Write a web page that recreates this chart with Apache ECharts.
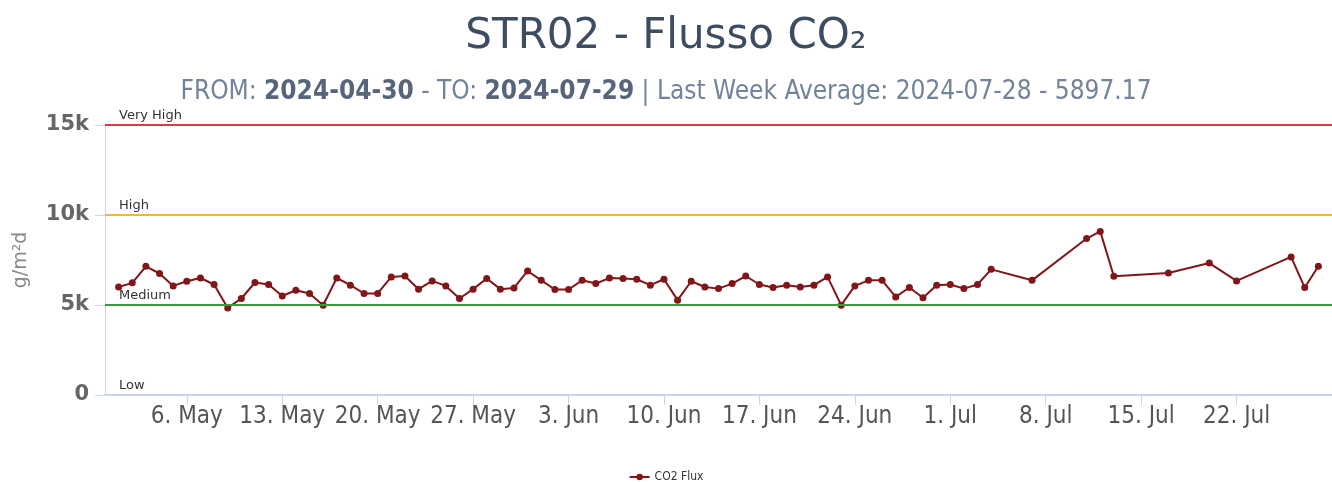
<!DOCTYPE html>
<html>
<head>
<meta charset="utf-8">
<script src="https://cdn.jsdelivr.net/npm/echarts@6/dist/echarts.min.js"></script>
<style>
  html, body { margin: 0; padding: 0; background: #fff; }
  #chart { width: 1332px; height: 482px; }
</style>
</head>
<body>
<div id="chart"></div>
<script>
// daily samples (then sparse in July)
const dates = [
  '2024-05-01', '2024-05-02', '2024-05-03', '2024-05-04', '2024-05-05', '2024-05-06', '2024-05-07',
  '2024-05-08', '2024-05-09', '2024-05-10', '2024-05-11', '2024-05-12', '2024-05-13', '2024-05-14',
  '2024-05-15', '2024-05-16', '2024-05-17', '2024-05-18', '2024-05-19', '2024-05-20', '2024-05-21',
  '2024-05-22', '2024-05-23', '2024-05-24', '2024-05-25', '2024-05-26', '2024-05-27', '2024-05-28',
  '2024-05-29', '2024-05-30', '2024-05-31', '2024-06-01', '2024-06-02', '2024-06-03', '2024-06-04',
  '2024-06-05', '2024-06-06', '2024-06-07', '2024-06-08', '2024-06-09', '2024-06-10', '2024-06-11',
  '2024-06-12', '2024-06-13', '2024-06-14', '2024-06-15', '2024-06-16', '2024-06-17', '2024-06-18',
  '2024-06-19', '2024-06-20', '2024-06-21', '2024-06-22', '2024-06-23', '2024-06-24', '2024-06-25',
  '2024-06-26', '2024-06-27', '2024-06-28', '2024-06-29', '2024-06-30', '2024-07-01', '2024-07-02',
  '2024-07-03', '2024-07-04', '2024-07-07', '2024-07-11', '2024-07-12', '2024-07-13', '2024-07-17',
  '2024-07-20', '2024-07-22', '2024-07-26', '2024-07-27', '2024-07-28'
];
const co2Flux = [
  6000, 6230, 7150, 6750, 6060, 6320, 6500,
  6140, 4840, 5360, 6250, 6140, 5500, 5820,
  5640, 4990, 6500, 6100, 5640, 5640, 6560,
  6610, 5880, 6340, 6060, 5360, 5880, 6470,
  5880, 5950, 6890, 6370, 5860, 5860, 6370,
  6190, 6500, 6470, 6430, 6100, 6430, 5270,
  6320, 6000, 5910, 6190, 6610, 6140, 5970,
  6100, 6000, 6100, 6560, 4990, 6060, 6370,
  6370, 5450, 5970, 5400, 6100, 6140, 5910,
  6140, 6980, 6370, 8690, 9090, 6600, 6780,
  7330, 6340, 7670, 5970, 7150
];
const tickDates = [
  '2024-05-06', '2024-05-13', '2024-05-20', '2024-05-27', '2024-06-03', '2024-06-10',
  '2024-06-17', '2024-06-24', '2024-07-01', '2024-07-08', '2024-07-15', '2024-07-22'
];
const tickLabels = [
  '6. May', '13. May', '20. May', '27. May', '3. Jun', '10. Jun',
  '17. Jun', '24. Jun', '1. Jul', '8. Jul', '15. Jul', '22. Jul'
];
const levelNames = ['Low', 'Medium', 'High', 'Very High'];
const levelValues = [0, 5000, 10000, 15000];
const levelColors = ['rgba(0,0,0,0)', '#3b9a3b', '#f7b531', '#de3a3f'];

const tickTimes = tickDates.map((d) => Date.parse(d));
const narrow = 'DejaVu Sans Condensed';
const chart = echarts.init(document.getElementById('chart'));

const option = {
  animation: false,
  title: [{
    text: 'STR02 - Flusso CO₂',
    left: 'center',
    top: 11,
    textStyle: {
      fontFamily: 'DejaVu Sans', fontSize: 42, fontWeight: 'normal', color: '#3d4c60'
    }
  }, {
    text: '{n|FROM: }{b|2024-04-30}{n| - TO: }{b|2024-07-29}{n| | Last Week Average: 2024-07-28 - 5897.17}',
    left: 'center',
    top: 74,
    textStyle: {
      fontWeight: 'normal',
      rich: {
        n: { fontFamily: narrow, fontSize: 26, fontWeight: 'normal', color: '#72839a' },
        b: { fontFamily: narrow, fontSize: 26, fontWeight: 'bold', color: '#56657a' }
      }
    }
  }],
  legend: {
    top: 466,
    left: 'center',
    itemWidth: 20,
    itemHeight: 8,
    textStyle: { fontSize: 12, color: '#333', fontFamily: narrow },
    data: ['CO2 Flux']
  },
  grid: { left: 105, top: 125, width: 1237, height: 270 },
  xAxis: {
    type: 'value',
    min: Date.parse('2024-04-30'),
    max: Date.parse('2024-07-29'),
    axisLine: { lineStyle: { color: '#ccd6eb', width: 2 } },
    axisTick: { show: true, length: 10, customValues: tickTimes, lineStyle: { color: '#ccd6eb' } },
    splitLine: { show: false },
    axisLabel: {
      customValues: tickTimes,
      margin: 10,
      fontFamily: narrow,
      fontSize: 24,
      color: '#555',
      formatter: (v) => tickLabels[tickTimes.indexOf(v)] || ''
    }
  },
  yAxis: {
    type: 'value',
    min: 0,
    max: 15000,
    interval: 5000,
    name: 'g/m²d',
    nameLocation: 'middle',
    nameGap: 74,
    nameTextStyle: { fontFamily: 'DejaVu Sans', fontSize: 19, color: '#8a8a8a' },
    axisLine: { show: true, lineStyle: { color: '#ccd6eb' } },
    axisTick: { show: true, length: 10, lineStyle: { color: '#ccd6eb' } },
    splitLine: { show: false },
    axisLabel: {
      margin: 16,
      fontFamily: 'DejaVu Sans',
      fontWeight: 'bold',
      fontSize: 21,
      color: '#666',
      formatter: (v) => (v === 0 ? '0' : `${v / 1000}k`)
    }
  },
  series: [{
    name: 'CO2 Flux',
    type: 'line',
    color: '#821518',
    symbol: 'circle',
    symbolSize: 7,
    lineStyle: { width: 2 },
    data: dates.map((d, i) => [Date.parse(d), co2Flux[i]]),
    markLine: {
      silent: true,
      symbol: 'none',
      data: levelValues.map((v, i) => ({
        yAxis: v,
        lineStyle: { color: levelColors[i], width: 2, type: 'solid' },
        label: {
          formatter: levelNames[i],
          position: 'insideStartTop',
          distance: [14, 3],
          fontSize: 13,
          color: '#333',
          fontFamily: 'DejaVu Sans'
        }
      }))
    }
  }]
};

chart.setOption(option);
</script>
</body>
</html>
